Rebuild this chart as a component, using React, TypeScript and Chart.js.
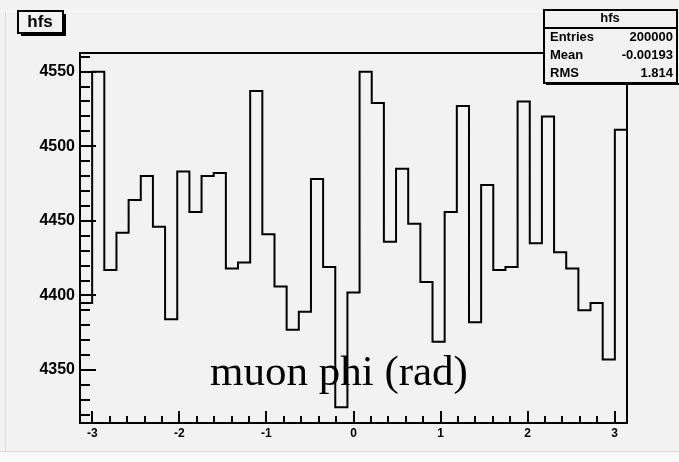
import { useEffect, useRef } from "react";
import Chart from "chart.js/auto";

// ---- data ----
const histName = "hfs";
const axisCaption = "muon phi (rad)";
const xMin = -Math.PI;
const xMax = Math.PI;
const binCount = 45;
const binValues = [
  4395, 4550, 4417, 4442, 4464, 4480, 4446, 4384, 4483, 4456,
  4480, 4482, 4418, 4422, 4537, 4441, 4406, 4377, 4389, 4478,
  4419, 4325, 4402, 4550, 4529, 4436, 4485, 4448, 4409, 4369,
  4456, 4527, 4382, 4474, 4417, 4419, 4530, 4435, 4520, 4429,
  4418, 4390, 4395, 4357, 4511,
];
const yMin = 4314.5;
const yMax = 4562.5;
const xTickLabels = [-3, -2, -1, 0, 1, 2, 3];
const yTickLabels = [4350, 4400, 4450, 4500, 4550];
const xMinorStep = 0.2;
const yMinorStep = 10;
const statLabels = ["Entries", "Mean", "RMS"];
const statValues = ["200000", "-0.00193", "1.814"];

const BG = "#f2f2f2";

export default function App() {
  const canvasRef = useRef<HTMLCanvasElement | null>(null);

  useEffect(() => {
    const canvas = canvasRef.current;
    if (!canvas) return;

    const binWidth = (xMax - xMin) / binCount;
    const points = binValues.map((v, i) => ({ x: xMin + i * binWidth, y: v }));
    points.push({ x: xMax, y: binValues[binValues.length - 1] });

    const decor = {
      id: "rootDecor",
      beforeDraw(chart: any) {
        const { ctx, width, height } = chart;
        ctx.save();
        ctx.fillStyle = BG;
        ctx.fillRect(0, 0, width, height);
        ctx.fillStyle = "#f9f9f9";
        ctx.fillRect(0, 452, width, height - 452);
        ctx.strokeStyle = "#dadada";
        ctx.lineWidth = 1;
        ctx.beginPath();
        ctx.moveTo(0, 451.5);
        ctx.lineTo(width, 451.5);
        ctx.moveTo(5.5, 12);
        ctx.lineTo(5.5, 451);
        ctx.stroke();
        ctx.strokeStyle = "#ffffff";
        ctx.beginPath();
        ctx.moveTo(6, 11.5);
        ctx.lineTo(width, 11.5);
        ctx.stroke();
        ctx.restore();
      },
      afterDatasetsDraw(chart: any) {
        const { ctx, chartArea: a, scales } = chart;
        const xs = scales.x;
        const ys = scales.y;
        ctx.save();
        ctx.strokeStyle = "#000";
        ctx.lineWidth = 2;
        ctx.strokeRect(a.left, a.top, a.right - a.left, a.bottom - a.top);
        ctx.beginPath();
        const yStart = Math.ceil(yMin / yMinorStep) * yMinorStep;
        for (let v = yStart; v <= yMax; v += yMinorStep) {
          const py = Math.round(ys.getPixelForValue(v));
          const major = yTickLabels.includes(v);
          ctx.moveTo(a.left, py);
          ctx.lineTo(a.left + (major ? 16 : 10), py);
        }
        const kStart = Math.ceil(xMin / xMinorStep);
        const kEnd = Math.floor(xMax / xMinorStep);
        for (let k = kStart; k <= kEnd; k++) {
          const v = k * xMinorStep;
          const px = Math.round(xs.getPixelForValue(v));
          const major = k % 5 === 0;
          ctx.moveTo(px, a.bottom);
          ctx.lineTo(px, a.bottom - (major ? 12 : 7));
        }
        ctx.stroke();
        ctx.restore();
      },
      afterDraw(chart: any) {
        const { ctx } = chart;
        ctx.save();
        // title box
        ctx.fillStyle = "#000";
        ctx.fillRect(21, 14, 45, 22);
        ctx.fillStyle = BG;
        ctx.fillRect(18, 11, 45, 22);
        ctx.strokeStyle = "#000";
        ctx.lineWidth = 2;
        ctx.strokeRect(18, 11, 45, 22);
        ctx.fillStyle = "#000";
        ctx.font = "bold 17px 'Liberation Sans', Arial, sans-serif";
        ctx.textAlign = "center";
        ctx.textBaseline = "middle";
        ctx.fillText(histName, 40, 22.5);

        // stats box
        const bx = 544, by = 10, bw = 133, bh = 73;
        ctx.fillStyle = "#000";
        ctx.fillRect(bx + 2, by + bh, bw, 2);
        ctx.fillStyle = BG;
        ctx.fillRect(bx, by, bw, bh);
        ctx.lineWidth = 2;
        ctx.strokeRect(bx, by, bw, bh);
        ctx.beginPath();
        ctx.moveTo(bx, 28);
        ctx.lineTo(bx + bw, 28);
        ctx.stroke();
        ctx.fillStyle = "#000";
        ctx.font = "bold 13px 'Liberation Sans', Arial, sans-serif";
        ctx.textAlign = "center";
        ctx.fillText(histName, 610, 18.5);
        statLabels.forEach((lab, i) => {
          const ry = 37 + i * 18;
          ctx.textAlign = "left";
          ctx.fillText(lab, 550, ry);
          ctx.textAlign = "right";
          ctx.fillText(statValues[i], 673, ry);
        });
        ctx.restore();
      },
    };

    const chart = new Chart(canvas, {
      type: "line",
      data: {
        datasets: [
          {
            data: points,
            stepped: "before",
            borderColor: "#000",
            borderWidth: 2,
            pointRadius: 0,
            fill: false,
          },
        ],
      },
      options: {
        animation: false,
        responsive: false,
        maintainAspectRatio: false,
        layout: { padding: { left: 0, right: 52, top: 53, bottom: 0 } },
        plugins: {
          legend: { display: false },
          tooltip: { enabled: false },
          title: { display: false },
        },
        scales: {
          x: {
            type: "linear",
            min: xMin,
            max: xMax,
            grid: { display: false, drawTicks: false },
            border: { display: false },
            afterBuildTicks: (s: any) => {
              s.ticks = xTickLabels.map((v) => ({ value: v }));
            },
            afterFit: (s: any) => {
              s.height = 39;
            },
            ticks: {
              autoSkip: false,
              maxRotation: 0,
              padding: 3,
              color: "#000",
              font: { family: "'Liberation Sans', Arial, sans-serif", size: 12, weight: "bold" },
              callback: (v: any) => String(v),
            },
          },
          y: {
            type: "linear",
            min: yMin,
            max: yMax,
            grid: { display: false, drawTicks: false },
            border: { display: false },
            afterBuildTicks: (s: any) => {
              s.ticks = yTickLabels.map((v) => ({ value: v }));
            },
            afterFit: (s: any) => {
              s.width = 80;
            },
            ticks: {
              autoSkip: false,
              padding: 5,
              color: "#000",
              font: { family: "'Liberation Sans', Arial, sans-serif", size: 16, weight: "bold" },
              callback: (v: any) => String(v),
            },
          },
        },
      },
      plugins: [decor],
    } as any);

    return () => chart.destroy();
  }, []);

  return (
    <div style={{ position: "absolute", left: 0, top: 0, width: 679, height: 462, overflow: "hidden" }}>
      <canvas ref={canvasRef} width={679} height={462} style={{ display: "block", width: 679, height: 462 }} />
      <div
        style={{
          position: "absolute",
          left: 210,
          top: 349,
          fontFamily: "'Liberation Serif', 'DejaVu Serif', serif",
          fontSize: 43,
          lineHeight: "1",
          color: "#000",
          whiteSpace: "nowrap",
        }}
      >
        {axisCaption}
      </div>
    </div>
  );
}
